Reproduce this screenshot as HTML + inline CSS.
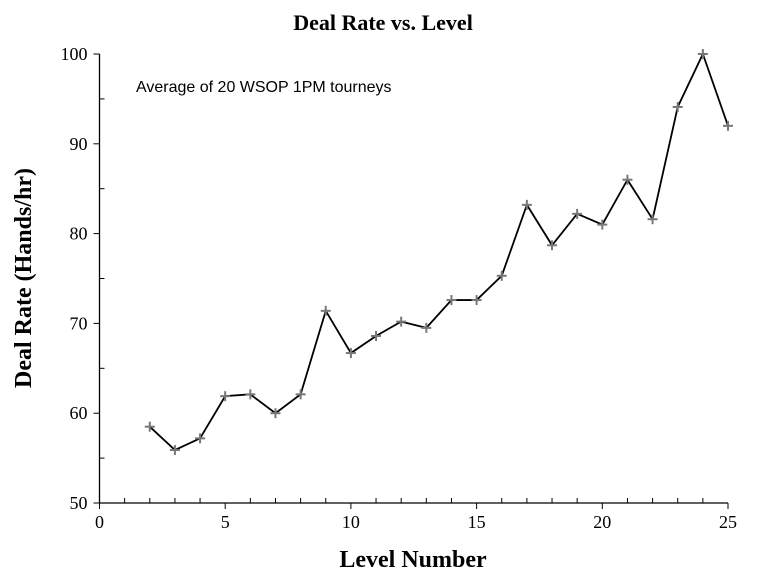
<!DOCTYPE html>
<html><head><meta charset="utf-8"><style>
body{margin:0;background:#fff;}
svg text{font-family:"Liberation Serif",serif;}
</style></head><body>
<svg width="766" height="576" viewBox="0 0 766 576" xmlns="http://www.w3.org/2000/svg">
<text x="383" y="30" text-anchor="middle" font-size="22" font-weight="bold">Deal Rate vs. Level</text>
<text x="413" y="567" text-anchor="middle" font-size="24" font-weight="bold">Level Number</text>
<text transform="translate(31,278) rotate(-90)" text-anchor="middle" font-size="24" font-weight="bold">Deal Rate (Hands/hr)</text>
<text x="136" y="92" font-size="16" style="font-family:'Liberation Sans',sans-serif">Average of 20 WSOP 1PM tourneys</text>
<g id="axes"></g>
<g id="series"></g>
</svg>
<script>
const levels=[2,3,4,5,6,7,8,9,10,11,12,13,14,15,16,17,18,19,20,21,22,23,24,25];
const dealRates=[58.5,55.9,57.2,61.9,62.1,60,62.1,71.4,66.7,68.6,70.2,69.5,72.6,72.6,75.3,83.2,78.7,82.2,81,86,81.6,94.1,100,92];
const xTicks=[0,5,10,15,20,25];
const yTicks=[50,60,70,80,90,100];
const NS="http://www.w3.org/2000/svg";
const X0=99.5,X1=728,Y0=503,Y1=54;
const xs=v=>X0+(v-0)/(25-0)*(X1-X0);
const ys=v=>Y0-(v-50)/(100-50)*(Y0-Y1);
function mk(t,a,p){const e=document.createElementNS(NS,t);for(const k in a)e.setAttribute(k,a[k]);p.appendChild(e);return e;}
const ax=document.getElementById('axes');
const xl=mk('line',{x1:X0,y1:Y0,x2:X1,y2:Y0,stroke:'#000','stroke-width':1.3},ax);


const yl=mk('line',{x1:X0,y1:Y0,x2:X0,y2:Y1,stroke:'#000','stroke-width':1.3},ax);


for(let i=0;i<=25;i++){
  const major=i%5===0;
  mk('line',{x1:xs(i),x2:xs(i),y1:major?Y0+6:Y0,y2:major?Y0:Y0-5,stroke:'#000','stroke-width':1},ax);
}
xTicks.forEach(v=>{const t=mk('text',{x:xs(v),y:Y0+25,'text-anchor':'middle','font-size':18},ax);t.textContent=v;

});
for(let v=50;v<=100;v+=5){
  const major=v%10===0;
  mk('line',{x1:major?X0-6:X0,x2:major?X0:X0+5,y1:ys(v),y2:ys(v),stroke:'#000','stroke-width':1},ax);
}
yTicks.forEach(v=>{const t=mk('text',{x:X0-12,y:ys(v)+6,'text-anchor':'end','font-size':18},ax);t.textContent=v;

});
const s=document.getElementById('series');
const pl=mk('polyline',{points:levels.map((l,i)=>xs(l)+','+ys(dealRates[i])).join(' '),fill:'none',stroke:'#000','stroke-width':1.8},s);


levels.forEach((l,i)=>{const x=xs(l),y=ys(dealRates[i]);
const g=mk('g',{},s);


mk('line',{x1:x-5,x2:x+5,y1:y,y2:y,stroke:'#777','stroke-width':2},g);
mk('line',{x1:x,x2:x,y1:y-5,y2:y+5,stroke:'#777','stroke-width':2},g);});
</script>
</body></html>
